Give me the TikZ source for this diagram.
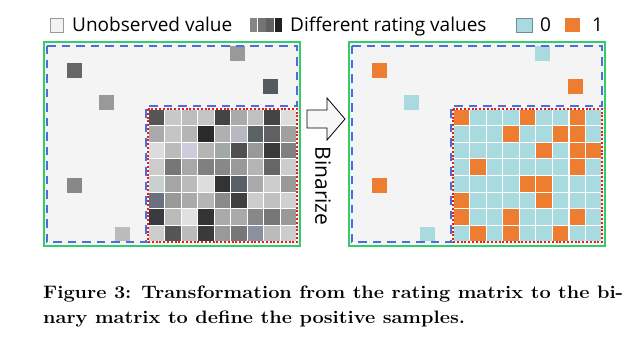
\documentclass[tikz,border=0pt]{standalone}
\usepackage{fontspec}
\newfontfamily\labfont{Open Sans}
\definecolor{gborder}{HTML}{33CC66}
\definecolor{bdash}{HTML}{4A6FDC}
\definecolor{rdot}{HTML}{E02020}
\definecolor{bgcell}{HTML}{F4F4F4}
\definecolor{zero}{HTML}{A9DAE0}
\definecolor{one}{HTML}{ED7D31}
\definecolor{unobs}{HTML}{F2F2F2}
\definecolor{ga}{HTML}{666666}
\definecolor{gb}{HTML}{999999}
\definecolor{gc}{HTML}{555A60}
\definecolor{gd}{HTML}{888888}
\definecolor{ge}{HTML}{BBBBBB}
\newcommand\capfnt{\rmfamily\bfseries\fontsize{18}{22}\selectfont}
\newsavebox\caplineone
\begin{document}
\sbox\caplineone{\capfnt Figure 3: Transformation from the rating matrix to the bi-}%
\begin{tikzpicture}[x=1pt,y=-1pt,
  lab/.style={font=\labfont\fontsize{19}{22}\selectfont, inner sep=0pt, anchor=base west},
  captext/.style={font=\capfnt, inner sep=0pt, anchor=base west},
  frame/.style={draw=gborder, line width=2pt},
  train/.style={draw=bdash, line width=2pt, dash pattern=on 8.5pt off 6pt},
  testbox/.style={draw=rdot, line width=2.2pt, dash pattern=on 2pt off 1.8pt}]
\useasboundingbox (0,0) rectangle (644,351);
\fill[white] (0,0) rectangle (644,351);
\pgfmathsetmacro{\capratio}{580/\wd\caplineone}

% ---------- legend ----------
\fill[unobs] (50,18) rectangle (63,32);
\draw[draw=black!40, line width=0.8pt] (50,18) rectangle (63,32);
\node[lab] (l1) at (72,31) {Unobserved value};
\fill[black!48] (250,18) rectangle (257.4,32);
\fill[black!55] (258.2,18) rectangle (265.6,32);
\fill[black!62] (266.4,18) rectangle (273.8,32);
\fill[black!87] (274.6,18) rectangle (282,32);
\node[lab] (l2) at (290,31) {Different rating values};
\fill[zero] (516,18) rectangle (532,32);
\draw[draw=black!35!zero, line width=0.8pt] (516,18) rectangle (532,32);
\node[lab] (l3) at (540,31) {0};
\fill[one] (565,18) rectangle (580,32);
\node[lab] (l4) at (592,31) {1};

% ---------- left matrix ----------
\fill[bgcell] (44,42) rectangle (300,246);
\fill[ga] (67,63) rectangle ++(15,15);
\fill[gb] (230,46) rectangle ++(14.5,14.5);
\fill[gc] (263,79) rectangle ++(15,15);
\fill[gb] (99,95) rectangle ++(15,14.5);
\fill[gd] (67,178) rectangle ++(14.5,14.5);
\fill[ge] (115,227) rectangle ++(14.5,14);
\fill[white] (148,109) rectangle (297,242);
\foreach \row [count=\r from 0] in {
 {555555,C8C8C8,BDBDBD,C5C5C5,444444,AAAAAA,C0C0C0,444444,DDDDDD},
 {AAAAAA,C5C5C5,B5B5B5,2A2A2A,B0B0B0,B8B8C5,5A6464,606060,A0A0A0},
 {DCDCDC,BBBBBB,CCCCDD,B5B5B5,A0A8A8,505050,999999,3A3A3A,808080},
 {CCCCCC,777777,A8A8A8,808080,888888,999999,B5B5B5,666666,CCCCCC},
 {C8D0D0,A5A5A5,BBBBBB,DDDDDD,333333,5A6068,AAAAAA,CCCCCC,999999},
 {6A7080,999999,AAAAAA,B5B5B5,8A8A8A,404040,CCCCCC,C0C0C0,D0D0D0},
 {3A3A40,BBBBBB,E0E0E0,333333,AAAAAA,AAAAAA,888888,777777,999999},
 {CCCCCC,555555,BBBBBB,3A3A3A,999999,777777,8A90A0,BBBBBB,CCCCCC}} {
  \foreach \c [count=\k from 0] in \row {
    \definecolor{tmpc}{HTML}{\c}
    \fill[tmpc] ({148+\k*16.556+0.6},{109+\r*16.625+0.6}) rectangle ++(15.35,15.4);
  }
}
\draw[train] (47,46) -- (297,46) -- (297,106) -- (146,106) -- (146,242) -- (47,242) -- cycle;
\draw[testbox] (148,109) rectangle (297,242);
\draw[frame] (44,42) rectangle (300,246);

% ---------- arrow ----------
\draw[fill=black!3, line width=0.8pt, line join=miter]
  (307,110) -- (327,110) -- (327,98) -- (345,119) -- (327,140) -- (327,128) -- (307,128) -- cycle;
\node[font=\labfont\fontsize{21}{24}\selectfont, inner sep=0pt, rotate=-90] (bin) at (323,186) {Binarize};

% ---------- right matrix ----------
\begin{scope}[xshift=305pt]
\fill[bgcell] (44,42) rectangle (300,246);
\fill[one] (67,63) rectangle ++(15,15);
\fill[zero] (230,46) rectangle ++(14.5,14.5);
\fill[one] (263,79) rectangle ++(15,15);
\fill[zero] (99,95) rectangle ++(15,14.5);
\fill[one] (67,178) rectangle ++(14.5,14.5);
\fill[zero] (115,227) rectangle ++(14.5,14);
\fill[white] (148,109) rectangle (297,242);
\foreach \row [count=\r from 0] in {
 {1,0,0,0,1,0,0,1,0},
 {0,0,0,1,0,0,1,1,0},
 {0,0,0,0,0,1,0,1,1},
 {0,1,0,0,0,0,0,1,0},
 {0,0,0,0,1,1,0,0,0},
 {1,0,0,0,0,1,0,0,0},
 {1,0,0,1,0,0,0,1,0},
 {0,1,0,1,0,0,1,0,0}} {
  \foreach \v [count=\k from 0] in \row {
    \ifnum\v=1 \def\cc{one}\else\def\cc{zero}\fi
    \fill[\cc] ({148+\k*16.556+0.6},{109+\r*16.625+0.6}) rectangle ++(15.35,15.4);
  }
}
\draw[train] (47,46) -- (297,46) -- (297,106) -- (146,106) -- (146,242) -- (47,242) -- cycle;
\draw[testbox] (148,109) rectangle (297,242);
\draw[frame] (44,42) rectangle (300,246);
\end{scope}

% ---------- caption ----------
\node[captext] (c1) at (43,298) {\scalebox{\capratio}[1]{Figure 3: Transformation from the rating matrix to the bi-}};
\node[captext] (c2) at (43,323) {\scalebox{\capratio}[1]{nary matrix to define the positive samples.}};
\end{tikzpicture}
\end{document}
